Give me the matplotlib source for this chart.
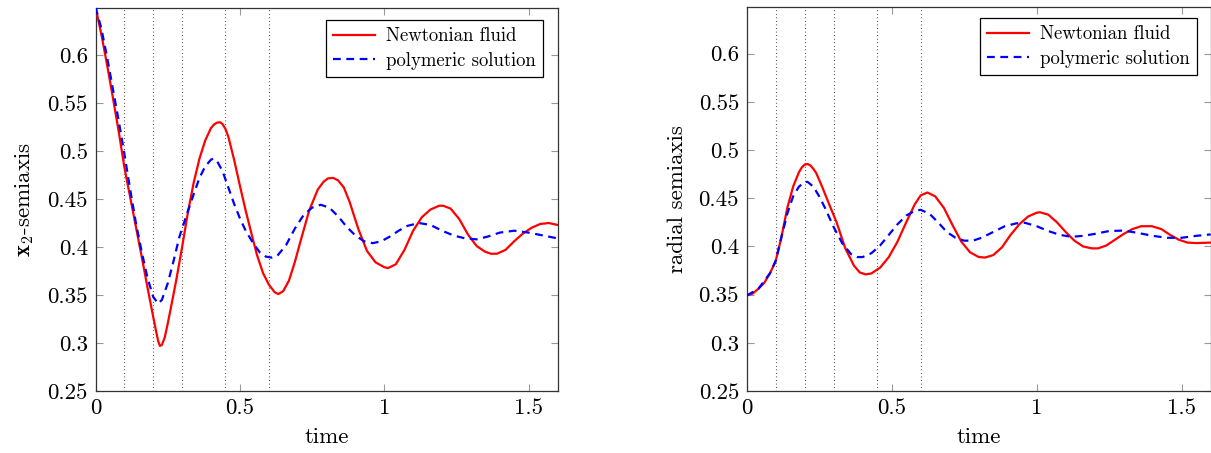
import matplotlib
matplotlib.use("Agg")
import matplotlib.pyplot as plt

# ---------------- data ----------------
markers_t = [0.1, 0.2, 0.3, 0.45, 0.6]

# left panel: x2-semiaxis
l_newt_t = [0.0, 0.02, 0.04, 0.06, 0.08, 0.10, 0.12, 0.14, 0.16, 0.18, 0.20, 0.21, 0.217, 0.223,
            0.23, 0.24, 0.25, 0.26, 0.28, 0.30, 0.32, 0.34, 0.36, 0.38, 0.40, 0.41, 0.42, 0.431, 0.44,
            0.45, 0.46, 0.48, 0.50, 0.52, 0.546, 0.56, 0.58, 0.60, 0.62, 0.633, 0.65, 0.67, 0.69,
            0.71, 0.74, 0.77, 0.79, 0.805, 0.823, 0.84, 0.86, 0.88, 0.91, 0.94, 0.97, 1.0, 1.013, 1.04,
            1.07, 1.10, 1.13, 1.16, 1.19, 1.204, 1.23, 1.26, 1.29, 1.32, 1.35, 1.37, 1.39,
            1.42, 1.45, 1.48, 1.51, 1.54, 1.57, 1.6]
l_newt_y = [0.650, 0.622, 0.590, 0.556, 0.521, 0.483, 0.452, 0.421, 0.390, 0.358, 0.327, 0.312, 0.302, 0.297,
            0.298, 0.306, 0.320, 0.335, 0.366, 0.400, 0.436, 0.467, 0.492, 0.511, 0.524, 0.5275, 0.5295, 0.530, 0.528,
            0.523, 0.515, 0.491, 0.464, 0.438, 0.407, 0.391, 0.373, 0.361, 0.353, 0.351, 0.354, 0.365, 0.384,
            0.406, 0.438, 0.460, 0.468, 0.4715, 0.472, 0.4695, 0.462, 0.447, 0.419, 0.396, 0.384, 0.379, 0.378, 0.382,
            0.397, 0.417, 0.431, 0.439, 0.443, 0.443, 0.440, 0.429, 0.413, 0.401, 0.395, 0.393, 0.393,
            0.397, 0.406, 0.414, 0.420, 0.424, 0.425, 0.423]

l_poly_t = [0.0, 0.02, 0.04, 0.06, 0.08, 0.10, 0.12, 0.14, 0.16, 0.18, 0.20, 0.217, 0.23,
            0.25, 0.27, 0.29, 0.315, 0.34, 0.36, 0.38, 0.40, 0.408, 0.42, 0.44, 0.46, 0.48,
            0.50, 0.52, 0.546, 0.57, 0.59, 0.61, 0.63, 0.66, 0.69, 0.72, 0.75, 0.78, 0.81,
            0.84, 0.87, 0.90, 0.93, 0.96, 0.99, 1.02, 1.05, 1.08, 1.12, 1.16, 1.20, 1.24,
            1.28, 1.32, 1.36, 1.40, 1.45, 1.50, 1.55, 1.6]
l_poly_y = [0.650, 0.628, 0.598, 0.565, 0.532, 0.497, 0.460, 0.425, 0.395, 0.368, 0.348, 0.341, 0.345,
            0.362, 0.385, 0.410, 0.433, 0.455, 0.472, 0.484, 0.491, 0.492, 0.490, 0.479, 0.462, 0.445,
            0.430, 0.417, 0.404, 0.394, 0.390, 0.389, 0.391, 0.402, 0.419, 0.433, 0.441, 0.444, 0.441,
            0.432, 0.421, 0.412, 0.406, 0.404, 0.406, 0.411, 0.417, 0.422, 0.425, 0.423, 0.417, 0.412,
            0.409, 0.408, 0.411, 0.415, 0.417, 0.415, 0.412, 0.409]

# right panel: radial semiaxis
r_newt_t = [0.0, 0.02, 0.04, 0.06, 0.08, 0.10, 0.12, 0.14, 0.16, 0.18, 0.19, 0.20, 0.21, 0.22,
            0.23, 0.24, 0.26, 0.28, 0.31, 0.34, 0.37, 0.39, 0.41, 0.43, 0.46, 0.49, 0.52, 0.55,
            0.58, 0.60, 0.623, 0.65, 0.68, 0.71, 0.74, 0.77, 0.80, 0.822, 0.85, 0.88, 0.91,
            0.94, 0.97, 1.0, 1.011, 1.04, 1.07, 1.10, 1.13, 1.16, 1.19, 1.212, 1.24, 1.27,
            1.30, 1.33, 1.36, 1.397, 1.43, 1.46, 1.49, 1.52, 1.55, 1.6]
r_newt_y = [0.349, 0.351, 0.356, 0.362, 0.372, 0.385, 0.410, 0.440, 0.462, 0.477, 0.482, 0.485, 0.4855, 0.484,
            0.4805, 0.476, 0.462, 0.447, 0.425, 0.398, 0.380, 0.373, 0.371, 0.372, 0.378, 0.389, 0.405, 0.425,
            0.444, 0.453, 0.456, 0.452, 0.440, 0.422, 0.405, 0.394, 0.389, 0.3885, 0.391, 0.399, 0.412,
            0.423, 0.431, 0.435, 0.4355, 0.433, 0.425, 0.415, 0.406, 0.400, 0.398, 0.398, 0.401, 0.407,
            0.413, 0.418, 0.421, 0.421, 0.418, 0.412, 0.407, 0.404, 0.4035, 0.404]

r_poly_t = [0.0, 0.04, 0.08, 0.10, 0.12, 0.14, 0.16, 0.18, 0.20, 0.21, 0.23, 0.25, 0.27,
            0.30, 0.33, 0.36, 0.38, 0.40, 0.43, 0.46, 0.49, 0.52, 0.55, 0.58, 0.60, 0.63,
            0.66, 0.69, 0.72, 0.75, 0.78, 0.81, 0.85, 0.89, 0.93, 0.96, 1.0, 1.04, 1.08,
            1.12, 1.16, 1.2, 1.25, 1.3, 1.35, 1.4, 1.45, 1.5, 1.55, 1.6]
r_poly_y = [0.349, 0.356, 0.372, 0.385, 0.410, 0.434, 0.452, 0.462, 0.467, 0.467, 0.462, 0.452, 0.440,
            0.420, 0.403, 0.392, 0.389, 0.389, 0.393, 0.401, 0.412, 0.423, 0.432, 0.437, 0.438, 0.434,
            0.425, 0.415, 0.409, 0.406, 0.406, 0.409, 0.415, 0.421, 0.424, 0.4245, 0.421, 0.416, 0.412,
            0.410, 0.411, 0.413, 0.416, 0.4165, 0.414, 0.411, 0.409, 0.409, 0.411, 0.4125]

x_ticks = [0, 0.5, 1, 1.5]
x_tick_labels = ["0", "0.5", "1", "1.5"]
y_ticks = [0.25, 0.3, 0.35, 0.4, 0.45, 0.5, 0.55, 0.6]
y_tick_labels = ["0.25", "0.3", "0.35", "0.4", "0.45", "0.5", "0.55", "0.6"]
legend_labels = ["Newtonian fluid", "polymeric solution"]

# ---------------- style ----------------
plt.rcParams["font.family"] = ["cmr10", "DejaVu Serif"]
plt.rcParams["mathtext.fontset"] = "cm"
plt.rcParams["axes.formatter.use_mathtext"] = True

W, H = 1211, 453
fig = plt.figure(figsize=(W / 100, H / 100), dpi=100)

def px_axes(x0, x1, y_top, y_bot):
    return fig.add_axes([x0 / W, 1 - y_bot / H, (x1 - x0) / W, (y_bot - y_top) / H])

axL = px_axes(95.5, 557.5, 8, 391)
axR = px_axes(746.7, 1210.7, 6.5, 391)

panels = [
    (axL, l_newt_t, l_newt_y, l_poly_t, l_poly_y, r"$\mathbf{x}_2$-semiaxis", (324, 20, 543, 79)),
    (axR, r_newt_t, r_newt_y, r_poly_t, r_poly_y, "radial semiaxis", (976, 18, 1197, 77)),
]

FS = 16.5
for ax, nt, ny, pt, py, ylab, leg in panels:
    for m in markers_t:
        ax.axvline(m, color="black", lw=0.8, ls=(0, (0.6, 2.6)), zorder=1)
    ln1, = ax.plot(nt, ny, color="#ff0000", lw=1.6, zorder=3, label=legend_labels[0],
                   solid_joinstyle="round")
    ln2, = ax.plot(pt, py, color="#0000ff", lw=1.6, zorder=3, label=legend_labels[1])
    ln2.set_dashes((3.5, 2.5))
    ax.set_xlim(0, 1.6)
    ax.set_ylim(0.25, 0.649)
    ax.set_xticks(x_ticks)
    ax.set_xticklabels(x_tick_labels)
    ax.set_yticks(y_ticks)
    ax.set_yticklabels(y_tick_labels)
    ax.tick_params(direction="in", length=5, width=0.8, color="#999999",
                   top=True, right=True, labelsize=FS, pad=5.5)
    for s in ax.spines.values():
        s.set_color("#333333")
        s.set_linewidth(0.9)
    ax.set_xlabel("time", fontsize=FS, labelpad=7)
    ax.set_ylabel(ylab, fontsize=FS, labelpad=8)
    x0, y0, x1, y1 = leg
    lg = ax.legend(loc="upper right", bbox_to_anchor=(x1 / W, 1 - y0 / H),
                   bbox_transform=fig.transFigure, fontsize=13.5, frameon=True,
                   fancybox=False, edgecolor="black", framealpha=1,
                   handlelength=2.2, handletextpad=0.6, borderpad=0.4,
                   labelspacing=0.35, borderaxespad=0)
    lg.get_frame().set_linewidth(0.9)

fig.savefig("out.png", dpi=100)
